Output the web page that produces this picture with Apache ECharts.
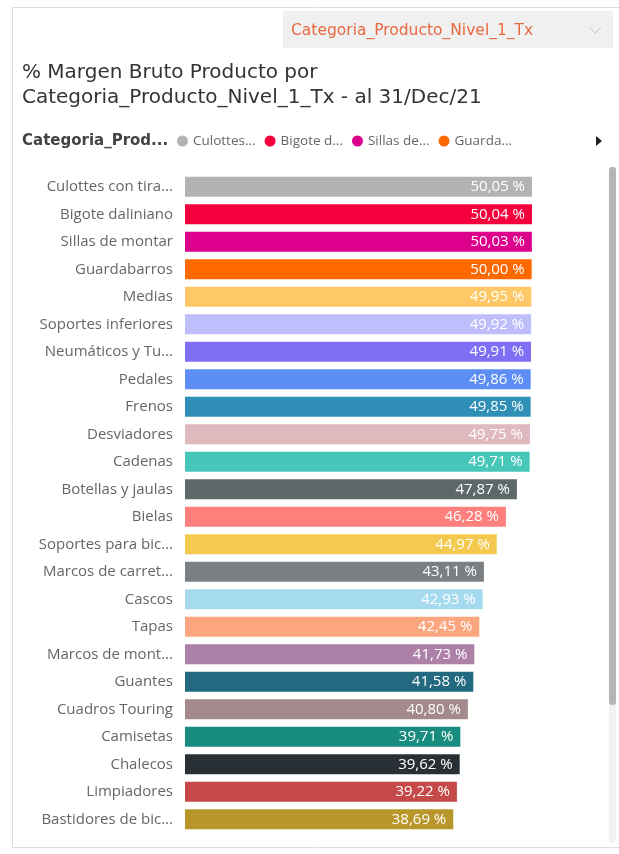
<!DOCTYPE html>
<html>
<head>
<meta charset="utf-8">
<script src="https://cdn.jsdelivr.net/npm/echarts@6/dist/echarts.min.js"></script>
<style>
  html, body { margin: 0; padding: 0; background: #fff; }
  #chart { width: 619px; height: 854px; }
</style>
</head>
<body>
<div id="chart"></div>
<script>
// categorias (tal como se ven en el eje)
var categorias = [
  'Culottes con tira...', 'Bigote daliniano', 'Sillas de montar', 'Guardabarros',
  'Medias', 'Soportes inferiores', 'Neumáticos y Tu...', 'Pedales', 'Frenos',
  'Desviadores', 'Cadenas', 'Botellas y jaulas', 'Bielas', 'Soportes para bic...',
  'Marcos de carret...', 'Cascos', 'Tapas', 'Marcos de mont...', 'Guantes',
  'Cuadros Touring', 'Camisetas', 'Chalecos', 'Limpiadores', 'Bastidores de bic...'
];
// % margen bruto
var margen = [
  50.05, 50.04, 50.03, 50.00, 49.95, 49.92, 49.91, 49.86, 49.85, 49.75, 49.71,
  47.87, 46.28, 44.97, 43.11, 42.93, 42.45, 41.73, 41.58, 40.80, 39.71, 39.62,
  39.22, 38.69
];
var colores = [
  '#B3B3B3', '#F5003D', '#DC008C', '#FF6A00', '#FDC865', '#BEBEFD', '#7E6FF5',
  '#5C8EF5', '#2F8FB6', '#DFB9BD', '#47C6BA', '#5E686B', '#FD807D', '#F3CA4F',
  '#7A7F84', '#A6DAEE', '#FCA680', '#AD80A8', '#236A80', '#A48A8C', '#178C7F',
  '#293035', '#C6494A', '#B8962A'
];
// leyenda visible (solo caben 4)
var leyenda = categorias.slice(0, 4);
var leyendaTexto = ['Culottes...', 'Bigote d...', 'Sillas de...', 'Guarda...'];

var chart = echarts.init(document.getElementById('chart'));

// una serie por categoria para que la leyenda tenga su color
var series = categorias.map(function (cat, i) {
  var d = categorias.map(function () { return '-'; });
  d[i] = margen[i];
  return {
    name: cat,
    type: 'bar',
    stack: 'total',
    barWidth: 20,
    data: d,
    itemStyle: { color: colores[i] },
    label: {
      show: true,
      position: 'insideRight',
      distance: 7,
      color: '#fff',
      fontFamily: 'Open Sans',
      fontSize: 15,
      formatter: function (p) {
        return p.value.toFixed(2).replace('.', ',') + ' %';
      }
    }
  };
});

chart.setOption({
  animation: false,
  textStyle: { fontFamily: 'Open Sans' },
  title: {
    text: '% Margen Bruto Producto por\nCategoria_Producto_Nivel_1_Tx - al 31/Dec/21',
    left: 22,
    top: 60,
    padding: 0,
    textStyle: { fontFamily: 'DejaVu Sans', fontSize: 20, fontWeight: 'normal', color: '#333', lineHeight: 25 }
  },
  legend: {
    data: leyenda,
    left: 177,
    top: 134,
    icon: 'circle',
    itemWidth: 11,
    itemHeight: 11,
    itemGap: 9,
    padding: 0,
    formatter: function (name) {
      return leyendaTexto[leyenda.indexOf(name)];
    },
    textStyle: { fontSize: 13.5, color: '#666' }
  },
  grid: { left: 185, right: 18, top: 173, height: 660 },
  xAxis: { type: 'value', min: 0, max: 60, show: false },
  yAxis: {
    type: 'category',
    data: categorias,
    inverse: true,
    axisLine: { show: false },
    axisTick: { show: false },
    axisLabel: { color: '#666', fontSize: 15, margin: 12 }
  },
  graphic: [
    { type: 'rect', shape: { x: 12.5, y: 7.5, width: 640, height: 840 }, style: { fill: 'none', stroke: '#DCDCDC', lineWidth: 1 }, z: -1 },
    { type: 'rect', shape: { x: 283, y: 11, width: 330, height: 37 }, style: { fill: '#F0F0F0' } },
    { type: 'text', x: 291, y: 31, style: { text: 'Categoria_Producto_Nivel_1_Tx', fill: '#E8693F', font: '15.5px DejaVu Sans', textVerticalAlign: 'middle' } },
    { type: 'polyline', shape: { points: [[589, 27], [595, 33], [601, 27]] }, style: { stroke: '#C8C8C8', lineWidth: 1, fill: 'none' } },
    { type: 'text', x: 22, y: 141, style: { text: 'Categoria_Prod...', fill: '#444', font: 'bold 15px DejaVu Sans', textVerticalAlign: 'middle' } },
    { type: 'polygon', shape: { points: [[596, 136], [596, 146], [602, 141]] }, style: { fill: '#222' } },
    { type: 'rect', shape: { x: 609, y: 167, width: 7, height: 676, r: 3 }, style: { fill: '#F2F2F2' } },
    { type: 'rect', shape: { x: 609, y: 167, width: 7, height: 538, r: 3 }, style: { fill: '#B5B5B5' } }
  ],
  series: series
});
</script>
</body>
</html>
